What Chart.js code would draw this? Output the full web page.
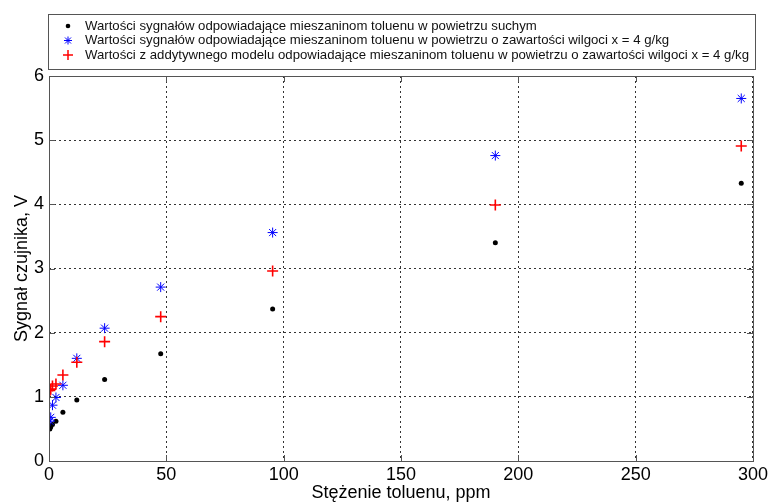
<!DOCTYPE html>
<html>
<head>
<meta charset="utf-8">
<script src="https://cdn.jsdelivr.net/npm/chart.js@4.4.1/dist/chart.umd.min.js"></script>
<style>
  html, body { margin: 0; padding: 0; background: #fff; }
</style>
</head>
<body>
<canvas id="wykres" width="771" height="504"></canvas>
<script>
// stężenie toluenu, ppm
const stezenie = [0.37, 0.74, 1.48, 2.96, 5.92, 11.85, 23.7, 47.6, 95.3, 190.2, 295];
// sygnał czujnika, V
const suche = [0.50, 0.53, 0.57, 0.62, 0.76, 0.95, 1.27, 1.67, 2.37, 3.40, 4.33];
const wilgotne = [0.62, 0.68, 0.87, 0.99, 1.18, 1.60, 2.07, 2.71, 3.56, 4.76, 5.65];
const model = [1.10, 1.12, 1.17, 1.20, 1.34, 1.54, 1.86, 2.25, 2.96, 3.99, 4.91];

const etykiety = [
    "Wartości sygnałów odpowiadające mieszaninom toluenu w powietrzu suchym",
    "Wartości sygnałów odpowiadające mieszaninom toluenu w powietrzu o zawartości wilgoci x = 4 g/kg",
    "Wartości z addytywnego modelu odpowiadające mieszaninom toluenu w powietrzu o zawartości wilgoci x = 4 g/kg"
];
const xTicks = [0, 50, 100, 150, 200, 250, 300];
const yTicks = [0, 1, 2, 3, 4, 5, 6];

const FONT = "Arial, 'Liberation Sans', sans-serif";

function punkty(ys) {
    return stezenie.map((x, i) => ({ x: x, y: ys[i] }));
}

// ramka osi + znaczniki podziałki do środka (jak w MATLABie)
const ramka = {
    id: "ramka",
    afterDraw(chart) {
        const { ctx, chartArea: a, scales } = chart;
        ctx.save();
        ctx.strokeStyle = "#555";
        ctx.lineWidth = 1;
        ctx.strokeRect(a.left + 0.5, a.top + 0.5, a.right - a.left, a.bottom - a.top);
        ctx.beginPath();
        xTicks.forEach(v => {
            const px = Math.round(scales.x.getPixelForValue(v)) + 0.5;
            ctx.moveTo(px, a.bottom); ctx.lineTo(px, a.bottom - 6);
            ctx.moveTo(px, a.top); ctx.lineTo(px, a.top + 6);
        });
        yTicks.forEach(v => {
            const py = Math.round(scales.y.getPixelForValue(v)) + 0.5;
            ctx.moveTo(a.left, py); ctx.lineTo(a.left + 6, py);
            ctx.moveTo(a.right, py); ctx.lineTo(a.right - 6, py);
        });
        ctx.stroke();
        ctx.restore();
    }
};

// legenda w ramce nad wykresem
const legenda = {
    id: "legenda",
    afterDraw(chart) {
        const ctx = chart.ctx;
        const L = 48, T = 14, R = 755, B = 69;
        ctx.save();
        ctx.fillStyle = "#fff";
        ctx.fillRect(L, T, R - L, B - T);
        ctx.strokeStyle = "#555";
        ctx.lineWidth = 1;
        ctx.strokeRect(L + 0.5, T + 0.5, R - L, B - T);
        ctx.font = "13.2px " + FONT;
        ctx.textBaseline = "middle";
        const ys = [26, 40.5, 55];
        chart.data.datasets.forEach((ds, i) => {
            const y = ys[i], mx = 68;
            ctx.strokeStyle = ds.borderColor;
            ctx.fillStyle = ds.backgroundColor;
            if (i === 0) {
                ctx.beginPath(); ctx.arc(mx, y, 2.3, 0, Math.PI * 2); ctx.fill();
            } else if (i === 1) {
                ctx.lineWidth = 1;
                ctx.beginPath();
                ctx.moveTo(mx - 4, y); ctx.lineTo(mx + 4, y);
                ctx.moveTo(mx, y - 4); ctx.lineTo(mx, y + 4);
                ctx.moveTo(mx - 3, y - 3); ctx.lineTo(mx + 3, y + 3);
                ctx.moveTo(mx - 3, y + 3); ctx.lineTo(mx + 3, y - 3);
                ctx.stroke();
            } else {
                ctx.lineWidth = 1.5;
                ctx.beginPath();
                ctx.moveTo(mx - 5, y); ctx.lineTo(mx + 5, y);
                ctx.moveTo(mx, y - 5); ctx.lineTo(mx, y + 5);
                ctx.stroke();
            }
            ctx.fillStyle = "#111";
            ctx.fillText(ds.label, 85, y);
        });
        ctx.restore();
    }
};

new Chart(document.getElementById("wykres"), {
    type: "scatter",
    data: {
        datasets: [
            {
                label: etykiety[0],
                data: punkty(suche),
                pointStyle: "circle",
                pointRadius: 2.5,
                backgroundColor: "#000",
                borderColor: "#000",
                borderWidth: 0,
                order: 3
            },
            {
                label: etykiety[1],
                data: punkty(wilgotne),
                pointStyle: "star",
                pointRadius: 5,
                backgroundColor: "#0000ff",
                borderColor: "#0000ff",
                borderWidth: 1,
                order: 2
            },
            {
                label: etykiety[2],
                data: punkty(model),
                pointStyle: "cross",
                pointRadius: 5.5,
                backgroundColor: "#ff0000",
                borderColor: "#ff0000",
                borderWidth: 1.6,
                order: 1
            }
        ]
    },
    options: {
        responsive: false,
        animation: false,
        layout: { padding: { top: 76, right: 16, left: 0, bottom: 0 } },
        plugins: {
            legend: { display: false },
            tooltip: { enabled: false }
        },
        scales: {
            x: {
                type: "linear",
                min: 0,
                max: 300,
                afterBuildTicks: s => { s.ticks = xTicks.map(v => ({ value: v })); },
                afterFit: s => { s.height = 43; },
                grid: { color: "#333", lineWidth: 1, drawTicks: false },
                border: { display: false, dash: [2, 3] },
                ticks: {
                    color: "#000",
                    padding: 3,
                    maxRotation: 0,
                    font: { family: FONT, size: 18 }
                },
                title: {
                    display: true,
                    text: "Stężenie toluenu, ppm",
                    color: "#000",
                    padding: 0,
                    font: { family: FONT, size: 18 }
                }
            },
            y: {
                type: "linear",
                min: 0,
                max: 6,
                afterBuildTicks: s => { s.ticks = yTicks.map(v => ({ value: v })); },
                afterFit: s => { s.width = 49; },
                grid: { color: "#333", lineWidth: 1, drawTicks: false },
                border: { display: false, dash: [2, 3] },
                ticks: {
                    color: "#000",
                    padding: 5,
                    font: { family: FONT, size: 18 }
                },
                title: {
                    display: true,
                    text: "Sygnał czujnika, V",
                    color: "#000",
                    padding: { top: 11, bottom: 0 },
                    font: { family: FONT, size: 18 }
                }
            }
        }
    },
    plugins: [ramka, legenda]
});
</script>
</body>
</html>
